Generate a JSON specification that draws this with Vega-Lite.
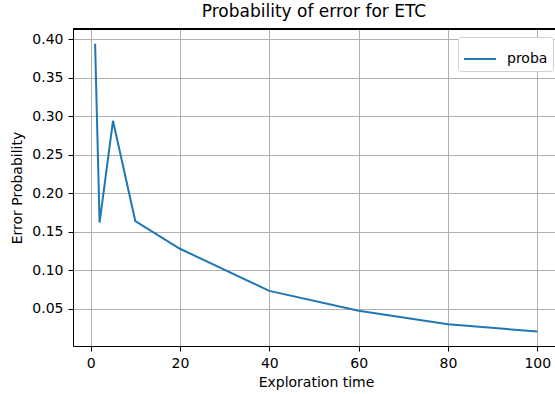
{
  "$schema": "https://vega.github.io/schema/vega-lite/v6.json",
  "autosize": {"type": "none"},
  "width": 482,
  "height": 317,
  "padding": {"left": 73, "top": 29, "right": 0, "bottom": 48},
  "background": "white",
  "title": {
    "text": "Probability of error for ETC",
    "font": "DejaVu Sans",
    "fontSize": 17,
    "fontWeight": "normal",
    "color": "black",
    "anchor": "middle",
    "offset": 8
  },
  "data": {
    "values": [
      {"t": 1, "p": 0.394, "s": "proba"},
      {"t": 2, "p": 0.162, "s": "proba"},
      {"t": 5, "p": 0.294, "s": "proba"},
      {"t": 10, "p": 0.164, "s": "proba"},
      {"t": 20, "p": 0.128, "s": "proba"},
      {"t": 40, "p": 0.0734, "s": "proba"},
      {"t": 60, "p": 0.0475, "s": "proba"},
      {"t": 80, "p": 0.0302, "s": "proba"},
      {"t": 100, "p": 0.0206, "s": "proba"}
    ]
  },
  "layer": [
    {
      "mark": {"type": "line", "strokeWidth": 2, "clip": true},
      "encoding": {
        "x": {
          "field": "t",
          "type": "quantitative",
          "scale": {"domain": [-3.95, 103.96], "nice": false, "zero": false},
          "axis": {
            "title": "Exploration time",
            "values": [0, 20, 40, 60, 80, 100],
            "titleX": 243,
            "titlePadding": 5
          }
        },
        "y": {
          "field": "p",
          "type": "quantitative",
          "scale": {"domain": [0.0019, 0.413], "nice": false, "zero": false},
          "axis": {
            "title": "Error Probability",
            "values": [0.05, 0.1, 0.15, 0.2, 0.25, 0.3, 0.35, 0.4],
            "format": ".2f",
            "titlePadding": 7
          }
        },
        "color": {
          "field": "s",
          "type": "nominal",
          "scale": {"range": ["#1f77b4"]},
          "legend": {
            "orient": "none",
            "legendX": 385,
            "legendY": 8,
            "title": null,
            "symbolType": "stroke",
            "symbolSize": 1024,
            "symbolStrokeWidth": 2,
            "labelFont": "DejaVu Sans",
            "labelFontSize": 14,
            "labelColor": "black",
            "labelOffset": 10,
            "padding": 5,
            "fillColor": "white",
            "strokeColor": "#d0d0d0",
            "cornerRadius": 3,
            "offset": 0
          }
        }
      }
    },
    {
      "mark": {"type": "rule", "color": "black", "strokeWidth": 1},
      "encoding": {"y": {"datum": 0.413}}
    }
  ],
  "config": {
    "view": {"stroke": null},
    "axis": {
      "labelFont": "DejaVu Sans",
      "labelFontSize": 14,
      "labelColor": "black",
      "titleFont": "DejaVu Sans",
      "titleFontSize": 14,
      "titleFontWeight": "normal",
      "titleColor": "black",
      "domainColor": "black",
      "domainWidth": 1,
      "tickColor": "black",
      "tickSize": 5,
      "tickWidth": 1,
      "labelPadding": 5,
      "grid": true,
      "gridColor": "#b0b0b0",
      "gridWidth": 1,
      "labelFlush": false,
      "labelOverlap": false
    }
  }
}
